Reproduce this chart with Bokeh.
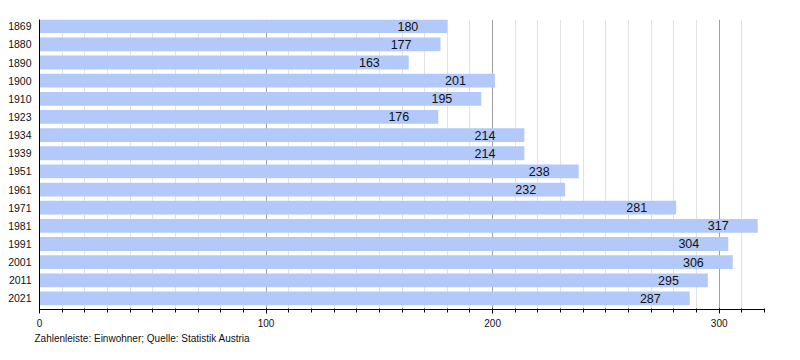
from bokeh.plotting import figure
from bokeh.models import ColumnDataSource, Range1d, FixedTicker, SingleIntervalTicker, Title
from bokeh.core.properties import value
from bokeh.embed import file_html
from bokeh.resources import INLINE

years = ["1869", "1880", "1890", "1900", "1910", "1923", "1934", "1939",
         "1951", "1961", "1971", "1981", "1991", "2001", "2011", "2021"]
population = [180, 177, 163, 201, 195, 176, 214, 214,
              238, 232, 281, 317, 304, 306, 295, 287]
x_ticks_major = 100
footer = "Zahlenleiste: Einwohner; Quelle: Statistik Austria"

idx = list(range(len(years)))
src = ColumnDataSource(dict(y=idx, v=population, lab=[str(v) for v in population]))

FONT = "Liberation Sans"

p = figure(width=784, height=344, output_backend="svg", toolbar_location=None,
           x_range=Range1d(0, 320), y_range=Range1d(15.61, -0.37),
           min_border_left=39, min_border_right=20, min_border_top=19,
           min_border_bottom=0)
p.outline_line_color = None
p.background_fill_color = "white"

p.hbar(y="y", right="v", left=0, height=0.76, source=src,
       fill_color="#b3c9fa", line_color=None)
p.text(x="v", y="y", text="lab", source=src, x_offset=-29,
       text_align="right", text_baseline="middle",
       text_font_size="12.5px", text_color="#111111", text_font=value(FONT))

# x axis
p.xaxis.ticker = SingleIntervalTicker(interval=x_ticks_major, num_minor_ticks=10)
p.xaxis.axis_line_color = "black"
p.xaxis.major_tick_line_color = "black"
p.xaxis.minor_tick_line_color = "black"
p.xaxis.major_tick_in = 1
p.xaxis.major_tick_out = 4
p.xaxis.minor_tick_in = 1
p.xaxis.minor_tick_out = 3
p.xaxis.major_label_standoff = 5
p.xaxis.major_label_text_font_size = "10px"
p.xaxis.major_label_text_font = FONT
p.xaxis.major_label_text_color = "#111111"

# y axis
p.yaxis.ticker = FixedTicker(ticks=idx)
p.yaxis.major_label_overrides = {i: y for i, y in zip(idx, years)}
p.yaxis.axis_line_color = "black"
p.yaxis.major_tick_line_color = None
p.yaxis.minor_tick_line_color = None
p.yaxis.major_tick_in = 0
p.yaxis.major_tick_out = 0
p.yaxis.major_label_standoff = 8
p.yaxis.major_label_text_font_size = "10.5px"
p.yaxis.major_label_text_font = FONT
p.yaxis.major_label_text_color = "#111111"

# grid
p.ygrid.grid_line_color = None
p.xgrid.ticker = p.xaxis.ticker
p.xgrid.grid_line_color = "#a0a0a0"
p.xgrid.minor_grid_line_color = "#e2e2e2"

p.add_layout(Title(text=footer, align="left", offset=-5, standoff=2,
                   text_font_size="10px", text_font=FONT, text_font_style="normal",
                   text_color="#111111"), "below")

open("out.html", "w").write(file_html(p, INLINE))
